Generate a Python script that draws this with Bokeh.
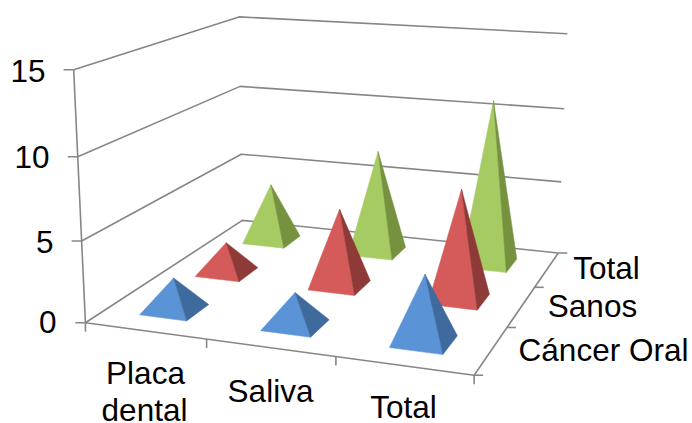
import numpy as np
from bokeh.plotting import figure
from bokeh.embed import file_html
from bokeh.resources import INLINE
from bokeh.core.properties import value

categories = ["Placa\ndental", "Saliva", "Total"]
series_names = ["Cáncer Oral", "Sanos", "Total"]
cancer_oral = [2, 2, 4]
sanos = [2, 5, 7]
total = [4, 7, 11]
value_ticks = [0, 5, 10, 15]
VMAX = 15.0

front_colors = ["#5B93D7", "#D55B5A", "#A7CB63"]
side_colors = ["#3F6A9E", "#8E3A39", "#76923F"]
GRID = "#868686"
FONT = "Liberation Sans"
FS = "31.5px"

# camera: known box locations in picture pixels, a projective matrix is fitted to them
anchors = [
    (0, 0, 0, 85, 322), (0, 0, 1/3, 81, 240), (0, 0, 2/3, 77, 156), (0, 0, 1, 73, 70),
    (1, 0, 0, 474, 375), (1/3, 0, 0, 206, 338.5), (2/3, 0, 0, 336, 356),
    (0, 1, 0, 242, 220), (0, 1, 1/3, 240, 154), (0, 1, 2/3, 240, 86), (0, 1, 1, 239, 16),
    (1, 1, 0, 557, 252), (1, 1, 1/3, 562, 182), (1, 1, 2/3, 564, 108), (1, 1, 1, 566, 33),
    (1, 1/3, 0, 506, 327), (1, 2/3, 0, 534, 287),
]
rows = []
for u, v, w, x, y in anchors:
    x, y = x / 500.0, y / 500.0
    rows.append([u, v, w, 1, 0, 0, 0, 0, -x*u, -x*v, -x*w, -x])
    rows.append([0, 0, 0, 0, u, v, w, 1, -y*u, -y*v, -y*w, -y])
P = np.linalg.svd(np.array(rows))[2][-1].reshape(3, 4)


def project(u, v, w):
    q = P @ np.array([u, v, w, 1.0])
    return 500.0 * q[0] / q[2], 500.0 * q[1] / q[2]


def path(points):
    pts = [project(*pt) for pt in points]
    return [a for a, _ in pts], [b for _, b in pts]


p = figure(width=692, height=423, x_range=(0, 692), y_range=(423, 0),
           output_backend="svg", toolbar_location=None, min_border=0,
           outline_line_color=None, background_fill_color="white")
p.axis.visible = False
p.grid.visible = False

LW = 1.6
# wall gridlines
for t in value_ticks[1:]:
    w = t / VMAX
    xs, ys = path([(0, 0, w), (0, 1, w), (1, 1, w)])
    p.line(xs, ys, line_color=GRID, line_width=LW)
# floor and value axis
xs, ys = path([(1, 1, 0), (0, 1, 0), (0, 0, 0), (1, 0, 0), (1, 1, 0)])
p.line(xs, ys, line_color=GRID, line_width=LW)
xs, ys = path([(0, 0, 0), (0, 0, 1)])
p.line(xs, ys, line_color=GRID, line_width=LW)

# ticks
for t in value_ticks:
    x, y = project(0, 0, t / VMAX)
    p.line([x - 10, x], [y, y], line_color=GRID, line_width=LW)
for i in range(len(categories) + 1):
    x, y = project(i / len(categories), 0, 0)
    p.line([x, x], [y, y + 9], line_color=GRID, line_width=LW)
for j in range(len(series_names) + 1):
    x, y = project(1, j / len(series_names), 0)
    p.line([x, x + 9], [y, y], line_color=GRID, line_width=LW)

# pyramids, back row first
HU, HV = 0.066, 0.067
for j in reversed(range(3)):
    vals = [cancer_oral, sanos, total][j]
    for i, val in enumerate(vals):
        cu, cv = (i + 0.5) / 3, (j + 0.5) / 3
        apex = (cu, cv, val / VMAX)
        fl = (cu - HU, cv - HV, 0)
        fr = (cu + HU, cv - HV, 0)
        br = (cu + HU, cv + HV, 0)
        xs, ys = path([fl, fr, apex])
        p.patch(xs, ys, fill_color=front_colors[j], line_color=front_colors[j], line_width=0.5)
        xs, ys = path([fr, br, apex])
        p.patch(xs, ys, fill_color=side_colors[j], line_color=side_colors[j], line_width=0.5)

TEXT_SHIFT = 12


def label(x, y, s, align="center"):
    p.text([x], [y - TEXT_SHIFT], text=[s], text_font=value(FONT), text_font_size=value(FS),
           text_color="black", text_align=align, text_baseline="alphabetic")


for t, (x, y) in zip(value_ticks, [(56, 333), (53, 253), (49, 168), (45, 82)]):
    label(x, y, str(t), "right")

placa, dental = categories[0].split("\n")
label(145, 384, placa)
label(144, 421, dental)
label(270, 402, categories[1])
label(403, 418, categories[2])
label(603, 361, series_names[0])
label(592, 317, series_names[1])
label(606, 279, series_names[2])

open("out.html", "w").write(file_html(p, INLINE))
